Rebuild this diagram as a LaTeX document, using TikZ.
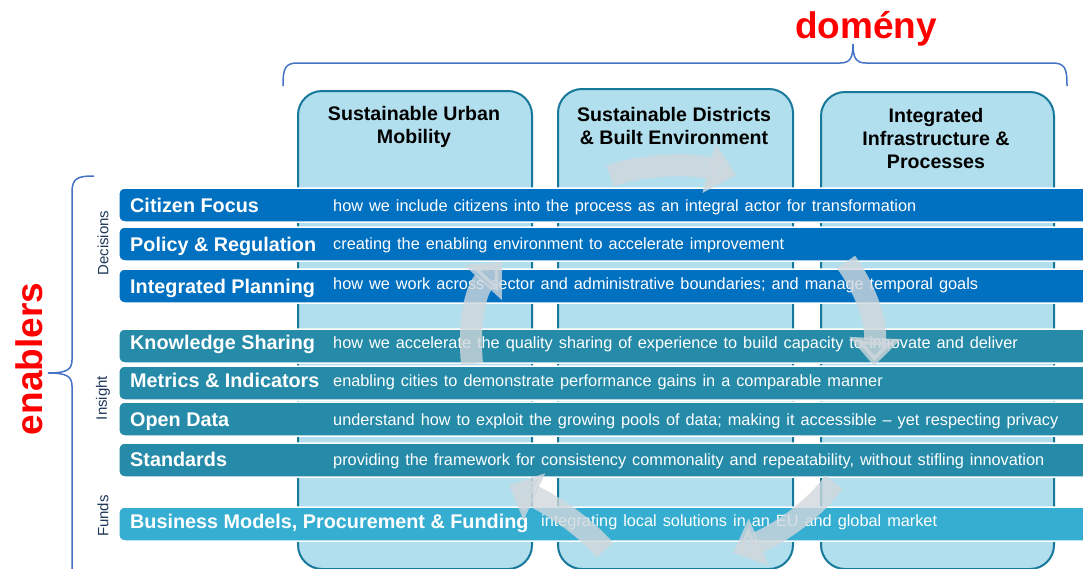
\documentclass[tikz,border=0pt]{standalone}
\usepackage{fontspec}
\setmainfont[Ligatures=TeX]{Liberation Sans}
\newcommand\widesp{\spaceskip=6pt plus 1pt\relax}
\usetikzlibrary{arrows.meta}
\definecolor{colfill}{RGB}{178,223,238}
\definecolor{colline}{RGB}{22,120,155}
\definecolor{dec}{RGB}{0,112,192}
\definecolor{ins}{RGB}{37,139,168}
\definecolor{fun}{RGB}{53,174,210}
\definecolor{bracecol}{RGB}{68,114,196}
\definecolor{labcol}{RGB}{31,56,90}
\definecolor{cyccol}{RGB}{208,215,220}
\begin{document}
\begin{tikzpicture}[x=1pt,y=-1pt,
  colbox/.style={draw=colline, line width=2pt, fill=colfill, rounded corners=24pt, anchor=north west, inner sep=0pt},
  hdr/.style={align=center, text=black, font=\fontsize{19.6}{23}\selectfont\bfseries},
  barbox/.style={draw=white, line width=1.5pt, rounded corners=6pt, anchor=west, minimum width=990pt, minimum height=34pt, inner sep=0pt},
  ttl/.style={anchor=base west, text=white, inner sep=0pt, font=\fontsize{19.8}{23}\selectfont\bfseries},
  dsc/.style={anchor=base west, text=white, inner sep=0pt, font=\fontsize{16.3}{20}\selectfont},
  grp/.style={rotate=90, text=labcol, inner sep=0pt, font=\fontsize{15}{18}\selectfont},
  bigred/.style={text=red, inner sep=0pt, font=\fontsize{37}{44}\selectfont\bfseries},
  cycarrow/.style={draw=cyccol, opacity=0.8, line width=22pt, -{Triangle[width=50pt,length=28pt]}},
  brc/.style={draw=bracecol, line width=1.5pt}
]
\useasboundingbox (0,0) rectangle (1083,568);
\clip (0,0) rectangle (1083,568);

% domain columns
\node[colbox, minimum width=234pt, minimum height=478pt] (c1) at (297,90) {};
\node[colbox, minimum width=235pt, minimum height=480pt] (c2) at (557,88) {};
\node[colbox, minimum width=233pt, minimum height=477pt] (c3) at (820,91) {};
\node[hdr] (h1) at (414,127) {Sustainable Urban\\Mobility};
\node[hdr] (h2) at (674,126) {Sustainable Districts\\\& Built Environment};
\node[hdr] (h3) at (936,138) {Integrated\\Infrastructure \&\\Processes};

% enabler bars
\node[barbox, fill=dec] (r1) at (118,205) {};
\node[barbox, fill=dec] (r2) at (118,244) {};
\node[barbox, fill=dec] (r3) at (118,286) {};
\node[barbox, fill=ins] (r4) at (118,346) {};
\node[barbox, fill=ins] (r5) at (118,383) {};
\node[barbox, fill=ins] (r6) at (118,419) {};
\node[barbox, fill=ins] (r7) at (118,460) {};
\node[barbox, fill=fun] (r8) at (118,524) {};

\node[ttl] (t1) at (130,212) {Citizen Focus};
\node[ttl] (t2) at (130,251) {Policy \& Regulation};
\node[ttl] (t3) at (130,293) {Integrated Planning};
\node[ttl] (t4) at (130,349) {Knowledge Sharing};
\node[ttl] (t5) at (130,387) {Metrics \& Indicators};
\node[ttl] (t6) at (130,426) {Open Data};
\node[ttl] (t7) at (130,466) {Standards};
\node[ttl] (t8) at (130,528) {Business Models, Procurement \& Funding};

\node[dsc] (d1) at (333,211) {\widesp how we include citizens into the process as an integral actor for transformation};
\node[dsc] (d2) at (333,249) {\widesp creating the enabling environment to accelerate improvement};
\node[dsc] (d3) at (333,289) {\widesp how we work across sector and administrative boundaries; and manage temporal goals};
\node[dsc] (d4) at (333,348) {\widesp how we accelerate the quality sharing of experience to build capacity to innovate and deliver};
\node[dsc] (d5) at (333,386) {\widesp enabling cities to demonstrate performance gains in a comparable manner};
\node[dsc] (d6) at (333,425) {\widesp understand how to exploit the growing pools of data; making it accessible – yet respecting privacy};
\node[dsc] (d7) at (333,465) {\widesp providing the framework for consistency commonality and repeatability, without stifling innovation};
\node[dsc] (d8) at (541,526) {\widesp integrating local solutions in an EU and global market};

% group labels
\node[grp] (g1) at (103,243) {Decisions};
\node[grp] (g2) at (103,398) {Insight};
\node[grp] (g3) at (103,516) {Funds};

% braces and titles
\draw[brc] (283,86) .. controls (283,68) and (285,63) .. (298,63) -- (840,63) .. controls (850,63) and (853,58) .. (853,44) .. controls (853,58) and (856,63) .. (866,63) -- (1052,63) .. controls (1065,63) and (1067,68) .. (1067,86);
\draw[brc] (94,176) .. controls (78,176) and (72,178) .. (72,192) -- (72,360) .. controls (72,370) and (66,373) .. (48,373) .. controls (66,373) and (72,376) .. (72,386) -- (72,570);
\node[bigred] (dom) at (866,29) {domény};
\node[bigred, rotate=90] (ena) at (29,359) {enablers};

% cycle arrows
\coordinate (a1s) at (610,176); \coordinate (a1e) at (736,175);
\coordinate (a2s) at (846,262); \coordinate (a2e) at (874,366);
\coordinate (a3s) at (834,482); \coordinate (a3e) at (733,553);
\coordinate (a4s) at (605,550); \coordinate (a4e) at (509,485);
\coordinate (a5s) at (472,364); \coordinate (a5e) at (502,262);
\draw[cycarrow] (a1s) .. controls (645,164) and (690,163) .. (a1e);
\draw[cycarrow] (a2s) .. controls (866,290) and (876,320) .. (a2e);
\draw[cycarrow] (a3s) .. controls (812,512) and (778,534) .. (a3e);
\draw[cycarrow] (a4s) .. controls (580,522) and (548,503) .. (a4e);
\draw[cycarrow] (a5s) .. controls (468,320) and (476,290) .. (a5e);
\end{tikzpicture}
\end{document}
